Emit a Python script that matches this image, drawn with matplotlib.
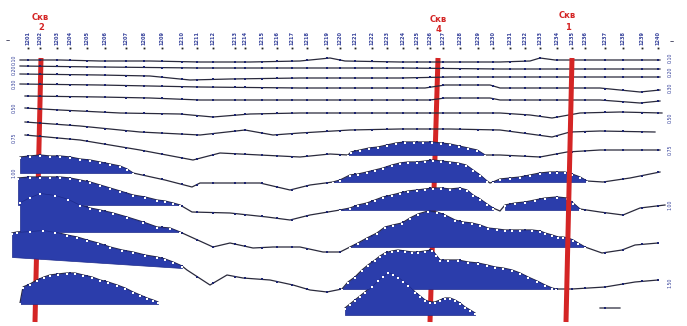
import numpy as np
import matplotlib
matplotlib.use("Agg")
import matplotlib.pyplot as plt

plt.rcParams['font.family'] = ['DejaVu Sans']

# ---------------- data ----------------
# shot-point (station) positions along the profile and their labels
stations = [28, 40, 57, 70, 87, 105, 126, 144, 162, 182, 197, 213, 235, 245,
            262, 277, 292, 307, 327, 340, 355, 372, 387, 403, 417, 430, 443,
            460, 478, 493, 510, 525, 540, 557, 572, 585, 605, 623, 642, 658]
station_labels = ["1201", "1202", "1203", "1204", "1205", "1206", "1207", "1208",
                  "1209", "1210", "1211", "1212", "1213", "1214", "1215", "1216",
                  "1217", "1218", "1219", "1220", "1221", "1222", "1223", "1224",
                  "1225", "1226", "1227", "1228", "1229", "1230", "1231", "1232",
                  "1233", "1234", "1235", "1236", "1237", "1238", "1239", "1240"]

# traces (distance, time)
t1_x = [20, 60, 100, 150, 200, 250, 300, 320, 330, 345, 400, 450, 500, 530, 540, 555, 600, 660]
t1_y = [60, 60, 61, 61, 62, 62, 61, 59, 58, 61, 62, 62, 62, 61, 58, 60, 60, 60]

t2_x = [20, 100, 200, 300, 400, 500, 600, 660]
t2_y = [66, 67, 68, 68, 68, 69, 69, 69]

t3_x = [20, 100, 150, 190, 230, 300, 400, 450, 500, 600, 660]
t3_y = [74, 75, 76, 80, 79, 78, 78, 77, 77, 77, 77]

t4_x = [20, 100, 200, 300, 400, 425, 445, 490, 500, 600, 640, 660]
t4_y = [84, 85, 87, 88, 88, 88, 85, 85, 88, 88, 92, 90]

t5_x = [25, 100, 150, 200, 250, 300, 350, 400, 430, 445, 490, 500, 600, 640, 660]
t5_y = [96, 97, 98, 100, 100, 100, 100, 100, 100, 98, 98, 100, 100, 103, 101]

t6_x = [25, 60, 120, 180, 213, 250, 300, 400, 450, 500, 530, 552, 580, 620, 662]
t6_y = [108, 110, 113, 114, 117, 114, 113, 113, 113, 113, 115, 118, 113, 112, 113]

t7_x = [25, 80, 140, 200, 245, 273, 300, 350, 400, 450, 500, 530, 552, 570, 600, 655]
t7_y = [122, 126, 132, 135, 130, 135, 133, 130, 129, 129, 130, 134, 137, 132, 131, 132]

t8_x = [25, 80, 140, 193, 220, 260, 300, 330, 348, 351, 360, 369, 378, 387, 396, 405,
        414, 423, 432, 441, 450, 459, 468, 477, 485, 500, 540, 567, 600, 660]
t8_y = [135, 140, 150, 160, 153, 155, 157, 154, 155, 152, 150, 148, 147, 145, 143, 142,
        142, 142, 142, 143, 144, 146, 148, 150, 155, 155, 157, 152, 150, 150]

t9_x = [20, 30, 40, 50, 60, 70, 80, 90, 100, 110, 120, 127, 133,
        165, 192, 200, 230, 260, 290, 310, 333,
        340, 350, 358, 367, 375, 383, 392, 400, 408, 417, 425, 433, 441, 450, 458,
        466, 473, 480, 487, 490,
        493, 500, 510, 520, 530, 540, 550, 557, 565, 572, 580, 587,
        603, 630, 660]
t9_y = [157, 156, 155, 156, 156, 157, 159, 160, 162, 164, 166, 169, 173,
        180, 187, 183, 183, 183, 190, 185, 182,
        180, 175, 174, 172, 170, 168, 165, 163, 162, 162, 161, 160, 161, 162, 163,
        165, 170, 175, 181, 183,
        182, 179, 178, 177, 175, 173, 172, 172, 172, 174, 177, 181,
        182, 178, 172]

t10_x = [18, 30, 40, 50, 60, 70, 80, 90, 100, 110, 120, 133, 145, 157, 165, 173, 180,
         192, 230, 267, 290, 310, 340,
         350, 358, 367, 375, 383, 392, 400, 408, 417, 425, 433, 441, 450, 460, 467,
         473, 480, 487, 493, 500,
         505, 515, 525, 535, 545, 557, 567, 573, 580,
         600, 623, 640, 665]
t10_y = [178, 177, 177, 177, 177, 178, 180, 182, 185, 188, 191, 195, 197, 200, 201, 203, 205,
         212, 213, 217, 220, 215, 210,
         208, 205, 203, 200, 197, 195, 193, 191, 190, 189, 188, 188, 189, 188, 190,
         195, 199, 204, 208, 211,
         205, 203, 202, 200, 198, 197, 198, 203, 209,
         212, 215, 208, 205]

t11_x = [20, 30, 40, 55, 68, 80, 90, 100, 113, 127, 143, 157, 170, 180,
         213, 230, 253, 273, 300, 323, 340, 350,
         358, 367, 377, 385, 393, 402, 410, 418, 428, 437, 445, 455, 463, 472, 480,
         488, 497, 505, 512, 520, 532, 540, 545, 552, 558, 563, 568, 573, 578, 585,
         602, 622, 635, 658]
t11_y = [202, 197, 193, 195, 199, 205, 208, 210, 213, 217, 222, 227, 228, 232,
         247, 243, 248, 247, 247, 252, 252, 247,
         243, 238, 233, 227, 225, 223, 218, 214, 211, 212, 215, 220, 222, 223, 225,
         228, 229, 230, 230, 230, 230, 231, 233, 235, 237, 237, 238, 240, 243, 247,
         253, 250, 245, 243]

t12_x = [12, 17, 30, 43, 55, 67, 77, 87, 98, 110, 122, 133, 145, 157, 165, 173, 182,
         187, 210, 227, 243, 270, 293, 310, 327, 342,
         348, 355, 362, 368, 375, 380, 385, 392, 398, 405, 412, 418, 425, 432, 436,
         440, 448, 458, 468, 478, 487, 495, 503, 512, 520, 528, 537, 545, 552, 556,
         572, 605, 635, 658]
t12_y = [233, 232, 231, 230, 232, 235, 237, 240, 243, 247, 250, 252, 255, 257, 259, 262, 266,
         270, 285, 275, 278, 280, 285, 290, 292, 289,
         282, 277, 270, 265, 260, 256, 253, 251, 250, 251, 252, 252, 251, 250, 255,
         260, 260, 260, 262, 263, 265, 267, 268, 270, 273, 277, 281, 285, 288, 289,
         289, 287, 282, 280]

t13_x = [20, 23, 30, 37, 44, 50, 58, 67, 75, 83, 92, 100, 108, 117, 125, 133, 140, 147,
         153, 158, 250,
         345, 350, 355, 360, 365, 372, 378, 383, 388, 393, 398, 403, 408, 415, 420, 425,
         430, 435, 440, 445, 450, 455, 460, 465, 470, 475, 540, 600, 620]
t13_y = [303, 287, 284, 280, 277, 275, 274, 273, 273, 275, 277, 280, 282, 285, 288, 292, 295, 298,
         300, 302, None,
         308, 304, 300, 296, 292, 286, 280, 276, 272, 274, 277, 281, 285, 292, 296, 300,
         302, 302, 300, 298, 298, 300, 303, 307, 310, 313, None, 308, 308]

traces = [(t1_x, t1_y), (t2_x, t2_y), (t3_x, t3_y), (t4_x, t4_y), (t5_x, t5_y),
          (t6_x, t6_y), (t7_x, t7_y), (t8_x, t8_y), (t9_x, t9_y), (t10_x, t10_y),
          (t11_x, t11_y), (t12_x, t12_y), (t13_x, t13_y)]

# variable-area fills: trace index, start, end, zero level at start, zero level at end
fills = [(7, 348, 485, 155, 155),
         (8, 20, 133, 173, 173), (8, 333, 487, 182, 182), (8, 493, 587, 182, 182),
         (9, 18, 180, 205, 205), (9, 340, 493, 210, 210), (9, 505, 580, 210, 210),
         (10, 20, 180, 232, 232), (10, 350, 585, 247, 247),
         (11, 12, 182, 257, 268), (11, 342, 556, 289, 289),
         (12, 20, 158, 304, 304), (12, 345, 475, 315, 315)]

# wells
well_names = ["2", "4", "1"]
well_x_top = [41, 438, 572]
well_x_bottom = [35, 430, 566]
well_label_x = [40, 438, 567]
well_label_y = [17, 19, 16]

# side labels (time marks)
left_label_y = [60, 70, 84, 108, 138, 173]
left_labels = ["0.10", "0.20", "0.30", "0.50", "0.75", "1.00"]
right_label_y = [58, 72, 88, 118, 150, 205, 283]
right_labels = ["0.10", "0.20", "0.30", "0.50", "0.75", "1.00", "1.50"]

# ---------------- drawing ----------------
BLUE = '#2b3dab'
BLUE_DARK = '#1e2b8c'
RED = '#d42525'
LINE = '#2a2a3c'

fig = plt.figure(figsize=(6.87, 3.26), dpi=100)
ax = fig.add_axes([0, 0, 1, 1])
ax.set_xlim(0, 687)
ax.set_ylim(326, 0)
ax.axis('off')

# wells
for name, xt, xb, lx, ly in zip(well_names, well_x_top, well_x_bottom, well_label_x, well_label_y):
    z = 10 if name == "1" else 1
    ax.plot([xt, xb], [58, 322], color=RED, lw=3.6, solid_capstyle='butt', zorder=z)
    ax.text(lx, ly, "Скв", color=RED, fontsize=6, fontweight='bold',
            ha='center', va='center', zorder=11)
    ax.text(lx + 1, ly + 11, name, color=RED, fontsize=6, fontweight='bold',
            ha='center', va='center', zorder=11)

# station labels and dots
for sx, lab in zip(stations, station_labels):
    ax.text(sx, 38, lab, rotation=90, fontsize=3.6, color='#34409a',
            ha='center', va='center', fontweight='bold')
ax.plot(stations, [48] * len(stations), 's', ms=1.3, color='#222222', mew=0)
ax.text(8, 41, "–", fontsize=6, color='#222244', ha='center', va='center')
ax.text(672, 42, "–", fontsize=6, color='#222244', ha='center', va='center')

for yy, lab in zip(left_label_y, left_labels):
    ax.text(14, yy, lab, rotation=90, fontsize=3.4, color='#34409a', ha='center', va='center')
for yy, lab in zip(right_label_y, right_labels):
    ax.text(670, yy, lab, rotation=90, fontsize=3.4, color='#34409a', ha='center', va='center')

# trace lines with station marks
for i, (tx, ty) in enumerate(traces):
    x = np.array(tx, dtype=float)
    y = np.array([np.nan if v is None else v for v in ty], dtype=float)
    ax.plot(x, y, color=LINE, lw=0.9, zorder=2)
    st = np.array([s for s in stations if x.min() <= s <= x.max()], dtype=float)
    sy = np.interp(st, x, y)
    ax.plot(st, sy, 's', ms=1.8, color='#1c2470', mew=0, zorder=2.1)

# variable-area fills
for ti, x0, x1, b0, b1 in fills:
    tx, ty = traces[ti]
    x = np.array(tx, dtype=float)
    y = np.array([np.nan if v is None else v for v in ty], dtype=float)
    m = (x >= x0) & (x <= x1)
    xs, ys = x[m], y[m]
    base = b0 + (b1 - b0) * (xs - x0) / (x1 - x0)
    z = 3 + ti * 0.1
    ax.fill_between(xs, ys, base, facecolor=BLUE, edgecolor=BLUE_DARK, lw=0.5, zorder=z)
    ax.plot(xs, ys + 1.2, 's', ms=1.9, color='white', mew=0, zorder=z + 0.05)

fig.savefig('out.png', dpi=100)
